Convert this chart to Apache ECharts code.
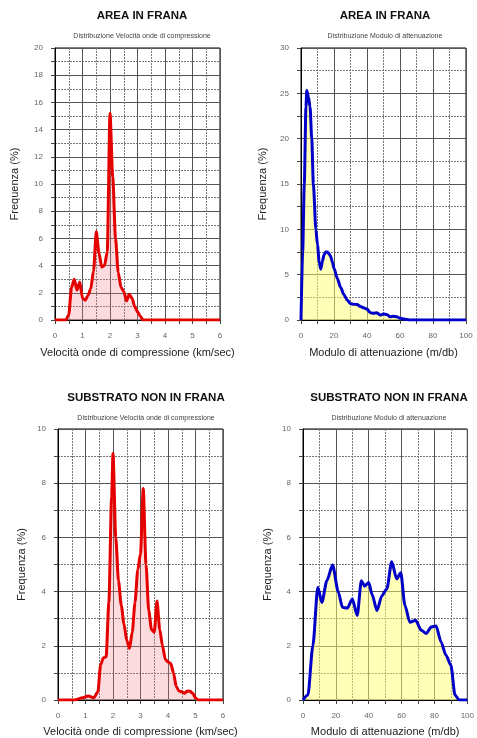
<!DOCTYPE html>
<html>
<head>
<meta charset="utf-8">
<script src="https://cdn.jsdelivr.net/npm/echarts@6/dist/echarts.min.js"></script>
<style>
  html, body { margin: 0; padding: 0; background: #fff; }
  #chart { width: 477px; height: 738px; }
</style>
</head>
<body>
<div id="chart"></div>
<script>
// AREA IN FRANA - velocita onde di compressione
const vel1X = [0, 0.4, 0.5, 0.6, 0.7, 0.8, 0.9, 1.0, 1.1, 1.2, 1.3, 1.4, 1.5, 1.6, 1.7, 1.8, 1.9, 2.0, 2.1, 2.2, 2.3, 2.4, 2.5, 2.6, 2.7, 2.8, 2.9, 3.0, 3.1, 3.2, 6]
const vel1Y = [0, 0, 0.4, 2.4, 3.0, 2.2, 2.8, 1.6, 1.45, 1.8, 2.3, 3.6, 6.5, 4.9, 3.9, 4.0, 5.0, 15.2, 10.5, 6.0, 3.5, 2.4, 2.1, 1.4, 1.9, 1.6, 1.0, 0.6, 0.3, 0, 0]

// AREA IN FRANA - modulo di attenuazione
const mod1X = [0, 1, 2, 3, 3.5, 4.5, 5.5, 6.5, 7.5, 9, 10, 11, 12, 13, 14, 15, 16, 17, 18, 19, 20, 22, 24, 26, 28, 30, 32, 34, 36, 38, 40, 42, 44, 46, 48, 50, 52, 54, 56, 58, 60, 62, 64, 66, 100]
const mod1Y = [0, 7.5, 15, 23.5, 25.3, 24.6, 23.5, 20, 15, 10, 8.3, 6.4, 5.6, 6.5, 7.2, 7.5, 7.5, 7.3, 7.0, 6.4, 5.7, 4.6, 3.6, 2.8, 2.2, 1.8, 1.75, 1.7, 1.5, 1.35, 1.2, 0.8, 0.75, 0.8, 0.55, 0.65, 0.6, 0.35, 0.4, 0.35, 0.2, 0.12, 0.05, 0, 0]

// SUBSTRATO NON IN FRANA - velocita onde di compressione
const vel2X = [0, 0.6, 0.9, 1.1, 1.3, 1.45, 1.55, 1.65, 1.75, 1.85, 1.95, 2.0, 2.1, 2.2, 2.3, 2.4, 2.5, 2.6, 2.7, 2.8, 2.9, 3.0, 3.1, 3.2, 3.3, 3.4, 3.5, 3.6, 3.7, 3.8, 3.9, 4.0, 4.1, 4.2, 4.3, 4.4, 4.5, 4.6, 4.7, 4.8, 4.9, 5.0, 5.1, 6]
const vel2Y = [0, 0, 0.08, 0.15, 0.08, 0.3, 1.3, 1.55, 1.6, 3.6, 7.5, 9.1, 6.0, 4.4, 3.5, 2.8, 2.2, 1.9, 2.5, 3.6, 4.8, 5.4, 7.8, 5.0, 3.3, 2.6, 2.5, 3.65, 2.6, 2.0, 1.5, 1.4, 1.35, 1.0, 0.5, 0.33, 0.3, 0.25, 0.33, 0.32, 0.25, 0.08, 0, 0]

// SUBSTRATO NON IN FRANA - modulo di attenuazione
const mod2X = [0, 3, 6, 9, 11.5, 14.5, 18, 21.5, 24, 27, 30, 33, 35.5, 37.5, 40, 42, 45, 48, 51, 54, 57, 59.5, 62, 65, 68.5, 72, 75, 78, 81, 84, 87, 90, 92.5, 95, 100]
const mod2Y = [0, 0.18, 2.0, 4.16, 3.6, 4.4, 4.98, 3.98, 3.42, 3.39, 3.73, 3.12, 4.4, 4.2, 4.34, 3.9, 3.3, 3.85, 4.1, 5.1, 4.47, 4.7, 3.5, 2.87, 2.94, 2.57, 2.45, 2.69, 2.73, 2.14, 1.65, 1.28, 0.18, 0, 0]

const titles = ['AREA IN FRANA', 'AREA IN FRANA', 'SUBSTRATO NON IN FRANA', 'SUBSTRATO NON IN FRANA']
const subtitles = [
  'Distribuzione Velocità onde di compressione',
  'Distribuzione Modulo di attenuazione',
  'Distribuzione Velocità onde di compressione',
  'Distribuzione Modulo di attenuazione'
]
const xNames = [
  'Velocità onde di compressione (km/sec)',
  'Modulo di attenuazione (m/db)',
  'Velocità onde di compressione (km/sec)',
  'Modulo di attenuazione (m/db)'
]
const yName = 'Frequenza (%)'

const FONT = 'Liberation Sans, Arial, sans-serif'
const RED = '#e50000'
const BLUE = '#0000c8'

// panel layout
const panels = [
  { left: 55, top: 48, width: 165, height: 272, cx: 142, ty: 16, sy: 36, xmax: 6, xint: 1, ymax: 20, yint: 2, yGap: 35, xGap: 27 },
  { left: 301, top: 48, width: 165, height: 272, cx: 385, ty: 16, sy: 36, xmax: 100, xint: 20, ymax: 30, yint: 5, yGap: 33, xGap: 27 },
  { left: 58, top: 429, width: 165, height: 273, cx: 146, ty: 398, sy: 418, xmax: 6, xint: 1, ymax: 10, yint: 2, yGap: 31, xGap: 26 },
  { left: 303, top: 429, width: 165, height: 273, cx: 389, ty: 398, sy: 418, xmax: 100, xint: 20, ymax: 10, yint: 2, yGap: 30, xGap: 26 }
]

const seriesData = [
  { x: vel1X, y: vel1Y, line: RED, fill: 'rgba(240, 120, 130, 0.38)' },
  { x: mod1X, y: mod1Y, line: BLUE, fill: 'rgba(255, 255, 110, 0.7)' },
  { x: vel2X, y: vel2Y, line: RED, fill: 'rgba(240, 120, 130, 0.38)' },
  { x: mod2X, y: mod2Y, line: BLUE, fill: 'rgba(255, 255, 110, 0.7)' }
]

function gridLines () {
  return {
    splitLine: { show: true, lineStyle: { color: '#555', width: 1 } },
    minorTick: { show: true, splitNumber: 2, length: 4, lineStyle: { color: '#444' } },
    minorSplitLine: { show: true, lineStyle: { color: '#777', width: 1, type: [2, 1] } }
  }
}

const chart = echarts.init(document.getElementById('chart'))

const title = []
panels.forEach((p, i) => {
  title.push({
    text: titles[i], left: p.cx, top: p.ty, padding: 0,
    textAlign: 'center', textVerticalAlign: 'middle',
    textStyle: { fontFamily: FONT, fontSize: 11.5, fontWeight: 'bold', color: '#111' }
  })
  title.push({
    text: subtitles[i], left: p.cx, top: p.sy, padding: 0,
    textAlign: 'center', textVerticalAlign: 'middle',
    textStyle: { fontFamily: FONT, fontSize: 7, fontWeight: 'normal', color: '#444' }
  })
})

const option = {
  backgroundColor: '#fff',
  animation: false,
  title: title,
  grid: panels.map(p => ({
    left: p.left, top: p.top, width: p.width, height: p.height,
    show: true, backgroundColor: '#fff', borderColor: '#000', borderWidth: 1
  })),
  xAxis: panels.map((p, i) => Object.assign({
    type: 'value', gridIndex: i, min: 0, max: p.xmax, interval: p.xint,
    name: xNames[i], nameLocation: 'middle', nameGap: p.xGap,
    nameTextStyle: { fontFamily: FONT, fontSize: 11, color: '#222' },
    axisLine: { show: true, lineStyle: { color: '#000' } },
    axisTick: { show: true, length: 4, lineStyle: { color: '#444' } },
    axisLabel: { fontFamily: FONT, fontSize: 8, color: '#666', margin: 12 }
  }, gridLines())),
  yAxis: panels.map((p, i) => Object.assign({
    type: 'value', gridIndex: i, min: 0, max: p.ymax, interval: p.yint,
    name: yName, nameLocation: 'middle', nameGap: p.yGap,
    nameTextStyle: { fontFamily: FONT, fontSize: 11, color: '#222' },
    axisLine: { show: true, lineStyle: { color: '#000' } },
    axisTick: { show: true, length: 4, lineStyle: { color: '#444' } },
    axisLabel: { fontFamily: FONT, fontSize: 8, color: '#666', margin: 12 }
  }, gridLines())),
  series: seriesData.map((s, i) => ({
    type: 'line',
    xAxisIndex: i,
    yAxisIndex: i,
    data: s.x.map((v, k) => [v, s.y[k]]),
    showSymbol: false,
    smooth: 0.25,
    smoothMonotone: 'x',
    lineStyle: { color: s.line, width: 3 },
    areaStyle: { color: s.fill, origin: 'start' },
    z: 3
  }))
}

chart.setOption(option)
</script>
</body>
</html>
